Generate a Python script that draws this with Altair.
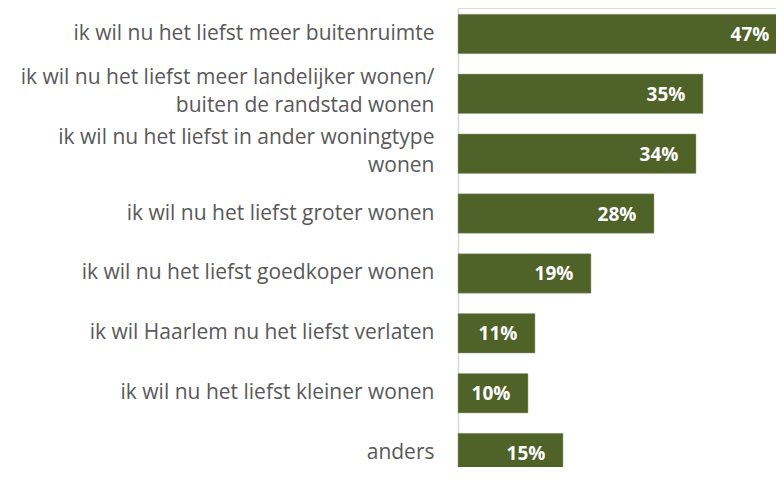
import altair as alt
import pandas as pd

categories = [
    "ik wil nu het liefst meer buitenruimte",
    "ik wil nu het liefst meer landelijker wonen/|buiten de randstad wonen",
    "ik wil nu het liefst in ander woningtype|wonen",
    "ik wil nu het liefst groter wonen",
    "ik wil nu het liefst goedkoper wonen",
    "ik wil Haarlem nu het liefst verlaten",
    "ik wil nu het liefst kleiner wonen",
    "anders",
]
values = [47, 35, 34, 28, 19, 11, 10, 15]
labels = ["47%", "35%", "34%", "28%", "19%", "11%", "10%", "15%"]

df = pd.DataFrame({"cat": categories, "val": values, "lab": labels})

FONT = "Open Sans"
BAR = "#4F6228"

y_enc = alt.Y(
    "cat:N",
    sort=categories,
    title=None,
    scale=alt.Scale(range=[0, 471], paddingInner=0.341, paddingOuter=0.104),
    axis=alt.Axis(
        labelExpr="split(datum.value, '|')",
        labelFont=FONT,
        labelFontSize=21,
        labelColor="#595959",
        labelLimit=500,
        labelPadding=24,
        labelLineHeight=28,
        labelOffset={
            "condition": {"test": "indexof(datum.value, '|') >= 0", "value": -16},
            "value": 0,
        },
        ticks=False,
        tickSize=0,
        domainColor="#D9D9D9",
        domainWidth=1.5,
        grid=False,
    ),
)

x_enc = alt.X(
    "val:Q",
    title=None,
    scale=alt.Scale(domain=[0, 47], range=[0, 329], nice=False),
    axis=None,
)

bars = alt.Chart(df).mark_bar(color=BAR, stroke="#9BA787", strokeWidth=0.5).encode(
    x=x_enc, y=y_enc
)

text = alt.Chart(df).mark_text(
    align="center",
    baseline="middle",
    dx=-37,
    dy=1,
    font=FONT,
    fontSize=19,
    fontWeight="bold",
    color="white",
).encode(x=x_enc, y=alt.Y("cat:N", sort=categories), text="lab:N")

chart = (
    alt.layer(bars, text)
    .properties(
        width=318,
        height=459,
        autosize=alt.AutoSizeParams(type="none"),
        padding={"left": 450, "top": 0, "right": 0, "bottom": 0},
    )
    .configure_view(stroke=None)
    .configure(background="white")
)

chart.save("out.html", embed_options={"renderer": "svg", "actions": False})
